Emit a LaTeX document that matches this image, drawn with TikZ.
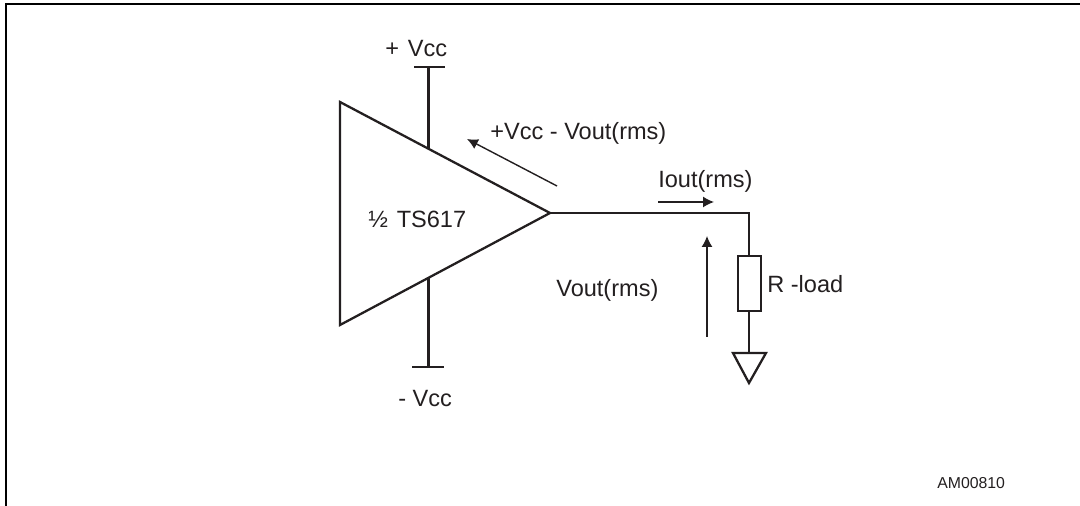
\documentclass[tikz,border=0pt]{standalone}
\usepackage{fontspec}
\setmainfont{Liberation Sans}
\usetikzlibrary{arrows.meta}
\definecolor{ink}{HTML}{231F20}
\tikzset{
	wire/.style={draw=ink, line width=1.3pt},
	flow/.style={draw=ink, line width=0.8pt, arrows={-Latex[length=6.2pt, width=6.2pt]}},
	label/.style={anchor=base west, inner sep=0pt, text=ink, font=\fontsize{13.4pt}{16pt}\selectfont},
}

\begin{document}
\begin{tikzpicture}[x=0.02cm, y=-0.02cm]
	\useasboundingbox (0, 0) rectangle (1080, 506);

	\coordinate (TL) at (340, 102);
	\coordinate (BL) at (340, 325);
	\coordinate (OUT) at (550, 213);
	\coordinate (PT) at (428.5, 148);
	\coordinate (PB) at (428.5, 278);
	\coordinate (PTE) at (428.5, 67);
	\coordinate (PBE) at (428.5, 367);
	\coordinate (C) at (749, 213);
	\coordinate (GND) at (749, 353);

	% frame
	\draw [line width=1.2pt, black] (1080, 4) -- (6, 4) -- (6, 506);

	% amplifier
	\draw [wire, line join=miter] (TL) -- (OUT) -- (BL) -- cycle;
	\draw [wire] (PT) -- (PTE);
	\draw [wire] (PB) -- (PBE);
	\draw [wire] (414, 67) -- (445, 67);
	\draw [wire] (412, 367) -- (444, 367);

	% load
	\node (RL) [wire, rectangle, minimum width=0.46cm, minimum height=1.1cm, inner sep=0pt] at (749.5, 283.5) {};
	\draw [wire] (OUT) -- (C) -- (RL.north -| C);
	\draw [wire] (RL.south -| C) -- (GND);
	\draw [wire] (733, 353) -- (766, 353) -- (749, 383) -- cycle;

	% arrows
	\coordinate (A1) at (557, 186);
	\coordinate (A2) at (467, 139);
	\coordinate (B1) at (658, 202);
	\coordinate (B2) at (714, 202);
	\coordinate (D1) at (707, 337);
	\coordinate (D2) at (707, 236);
	\draw [flow] (A1) -- (A2);
	\draw [flow] (B1) -- (B2);
	\draw [flow] (D1) -- (D2);

	% labels
	\node (Vp) [label] at (385, 57) {+\hspace{5pt}Vcc};
	\node (Vm) [label] at (398, 407) {- Vcc};
	\node (Vdrop) [label] at (490, 140) {+Vcc - Vout(rms)};
	\node (Amp) [label] at (368, 228) {½\hspace{5pt}TS617};
	\node (Iout) [label] at (658, 188) {Iout(rms)};
	\node (Vout) [label] at (556, 297) {Vout(rms)};
	\node (Rload) [label] at (767, 293) {R -load};
	\node (Ref) [label, font=\fontsize{9pt}{11pt}\selectfont] at (937, 489) {AM00810};
\end{tikzpicture}
\end{document}
